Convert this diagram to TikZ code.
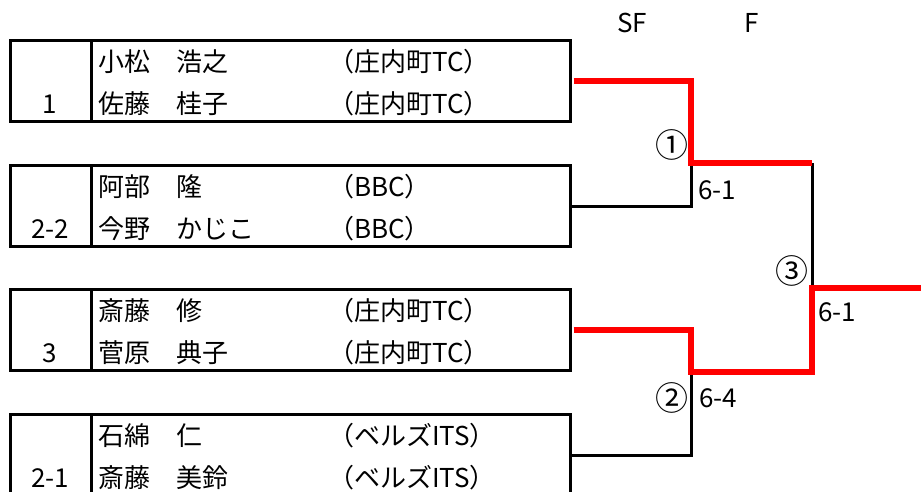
\documentclass[tikz,border=0pt]{standalone}
\usepackage{fontspec}
\newfontfamily\jp{Noto Sans CJK JP}

\begin{document}
\begin{tikzpicture}[x=1pt,y=-1pt,
    entrybox/.style={draw,line width=3pt,minimum width=560pt,minimum height=81pt,inner sep=0pt},
    txt/.style={font=\jp\fontsize{26}{28}\selectfont,inner sep=0pt},
    player/.style={txt,anchor=west},
    seedno/.style={txt},
    matchno/.style={font=\jp\fontsize{33}{35}\selectfont,inner sep=0pt},
    loser/.style={line width=3pt},
    winner/.style={line width=5.5pt,red}]
    \useasboundingbox (0,0) rectangle (921,491);

    % header
    \node[txt] (sf) at (632,23) {SF};
    \node[txt] (f) at (752,23) {F};

    % entries
    \node[entrybox] (b1) at (290.5,81) {};
    \node[entrybox] (b2) at (290.5,206) {};
    \node[entrybox] (b3) at (290.5,330) {};
    \node[entrybox] (b4) at (290.5,455) {};
    \foreach \b in {b1,b2,b3,b4}
        \draw[line width=3pt] ([xshift=82pt]\b.north west) -- ([xshift=82pt]\b.south west);

    \node[seedno] (s1) at (50,104) {1};
    \node[player] (p1a) at (98,62) {小松　浩之};
    \node[player] (c1a) at (328,62) {（庄内町TC）};
    \node[player] (p1b) at (98,104) {佐藤　桂子};
    \node[player] (c1b) at (328,104) {（庄内町TC）};

    \node[seedno] (s2) at (50,229) {2-2};
    \node[player] (p2a) at (98,187) {阿部　隆};
    \node[player] (c2a) at (328,187) {（BBC）};
    \node[player] (p2b) at (98,229) {今野　かじこ};
    \node[player] (c2b) at (328,229) {（BBC）};

    \node[seedno] (s3) at (50,353) {3};
    \node[player] (p3a) at (98,311) {斎藤　修};
    \node[player] (c3a) at (328,311) {（庄内町TC）};
    \node[player] (p3b) at (98,353) {菅原　典子};
    \node[player] (c3b) at (328,353) {（庄内町TC）};

    \node[seedno] (s4) at (50,478) {2-1};
    \node[player] (p4a) at (98,436) {石綿　仁};
    \node[player] (c4a) at (328,436) {（ベルズITS）};
    \node[player] (p4b) at (98,478) {斎藤　美鈴};
    \node[player] (c4b) at (328,478) {（ベルズITS）};

    % bracket
    \coordinate (sf1) at (691,163);
    \coordinate (sf2) at (691,372);
    \coordinate (fin) at (812,288);
    \coordinate (out) at (921,288);

    \draw[loser] (b2.east) -| (sf1);
    \draw[loser] (b4.east) -| (sf2);
    \draw[loser] (fin |- sf1) -- (fin);
    \draw[winner] ([xshift=1.5pt]b1.east) -| (sf1) -- (fin |- sf1);
    \draw[winner] ([xshift=1.5pt]b3.east) -| (sf2) -- (fin |- sf2) -- (fin) -- (out);

    \node[matchno] (m1) at (672,145) {①};
    \node[txt] (r1) at (717,190) {6-1};
    \node[matchno] (m2) at (672,398) {②};
    \node[txt] (r2) at (718,398) {6-4};
    \node[matchno] (m3) at (792,271) {③};
    \node[txt] (r3) at (837,312) {6-1};
\end{tikzpicture}
\end{document}
